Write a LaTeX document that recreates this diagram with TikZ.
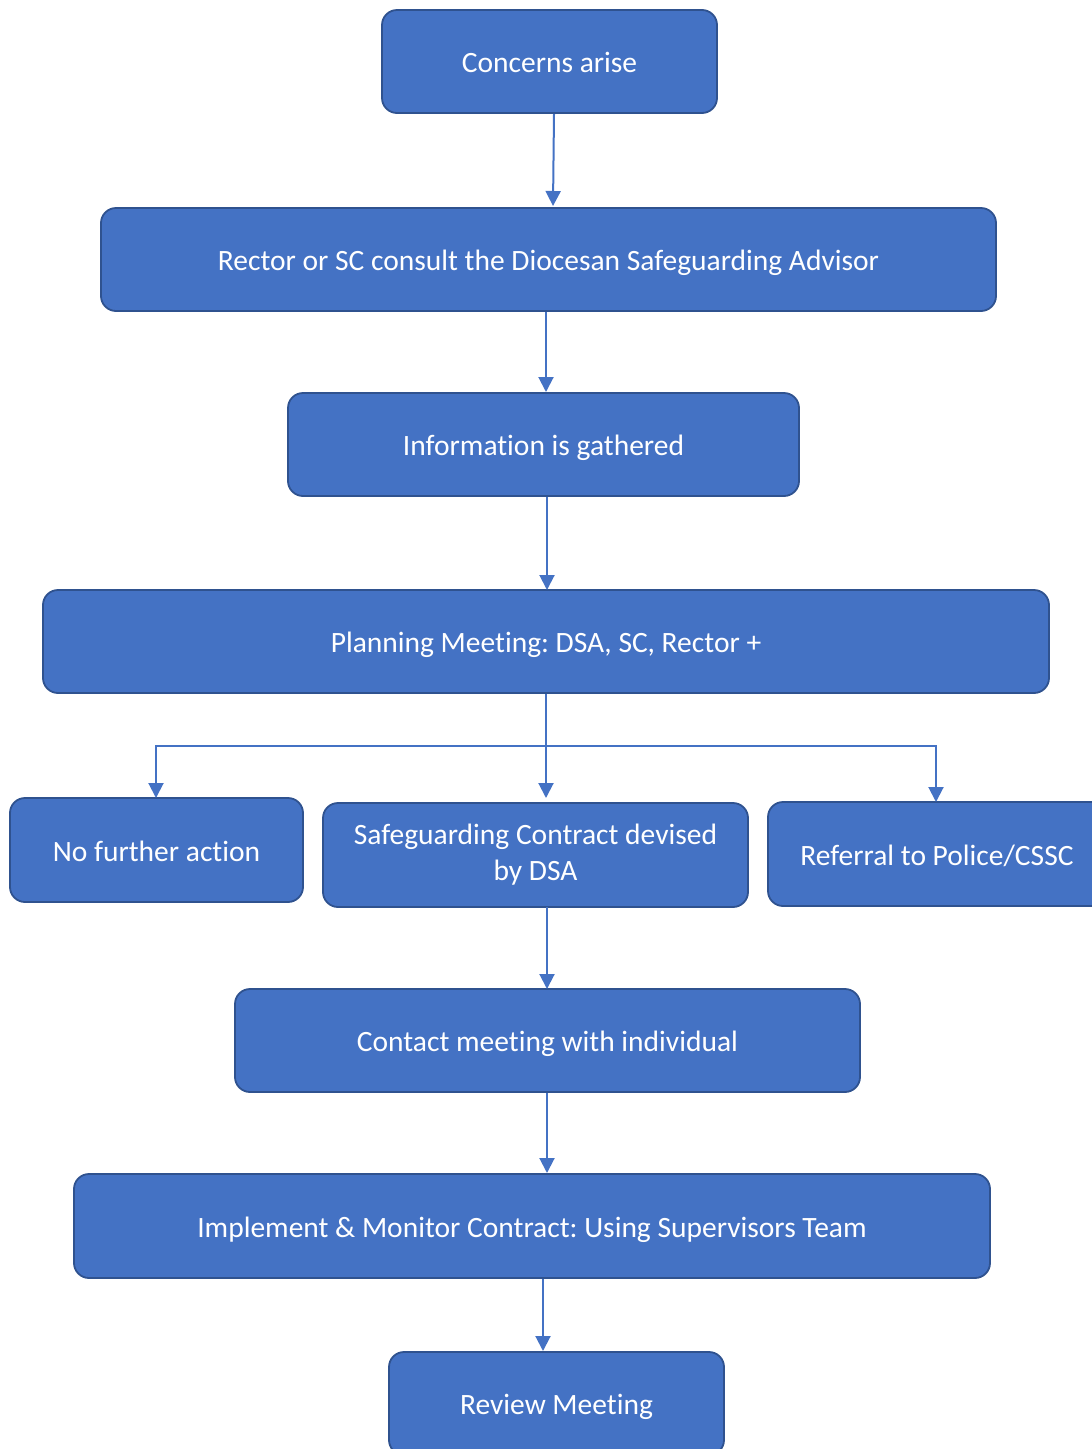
\documentclass[tikz,border=0pt]{standalone}
\usepackage{fontspec}
\setmainfont[Ligatures=NoCommon]{Carlito}
\usetikzlibrary{arrows.meta}
\definecolor{boxfill}{HTML}{4472C4}
\definecolor{boxline}{HTML}{2F528F}
\definecolor{arrowc}{HTML}{4472C4}
\frenchspacing
\begin{document}
\begin{tikzpicture}[x=1pt,y=-1pt,
  box/.style={draw=boxline, line width=1.8pt, fill=boxfill, rounded corners=15pt,
    text=white, font=\fontsize{29.5}{36}\selectfont\frenchspacing, align=center, inner sep=0pt},
  one/.style={text height=24pt, text depth=2pt},
  conn/.style={draw=arrowc, line width=2pt, -{Triangle[length=15pt,width=15pt]}},
  plain/.style={draw=arrowc, line width=2pt}]
\useasboundingbox (0,0) rectangle (1092,1449);
\clip (0,0) rectangle (1092,1449);
\node[box, one, minimum width=335pt, minimum height=103pt] (a) at (549.5,61.5) {Concerns arise};
\node[box, one, minimum width=895pt, minimum height=103pt] (b) at (548.5,259.5) {Rector or SC consult the Diocesan Safeguarding Advisor};
\node[box, one, minimum width=511pt, minimum height=103pt] (c) at (543.5,444.5) {Information is gathered};
\node[box, one, minimum width=1006pt, minimum height=103pt] (d) at (546,641.5) {Planning Meeting: DSA, SC, Rector +};
\node[box, one, minimum width=293pt, minimum height=104pt] (e) at (156.5,850) {No further action};
\node[box, minimum width=425pt, minimum height=104pt] (f) at (535.5,855) {Safeguarding Contract devised\\by DSA};
\node[box, one, minimum width=338pt, minimum height=104pt] (g) at (937,854) {Referral to Police/CSSC};
\node[box, one, minimum width=625pt, minimum height=103pt] (h) at (547.5,1040.5) {Contact meeting with individual};
\node[box, one, minimum width=916pt, minimum height=104pt] (i) at (532,1226) {Implement \& Monitor Contract: Using Supervisors Team};
\node[box, one, minimum width=335pt, minimum height=103pt] (j) at (556.5,1403.5) {Review Meeting};
\coordinate (br) at (546,746);
\draw[conn] (554,114) -- (553,206);
\draw[conn] (546,312) -- (546,392);
\draw[conn] (547,497) -- (547,590);
\draw[plain] (546,694) -- (br);
\draw[conn] (br) -- (546,798);
\draw[conn] (br) -| (156,798);
\draw[conn] (br) -| (936,802);
\draw[conn] (547,907) -- (547,989);
\draw[conn] (547,1093) -- (547,1173);
\draw[conn] (543,1279) -- (543,1351);
\end{tikzpicture}
\end{document}
